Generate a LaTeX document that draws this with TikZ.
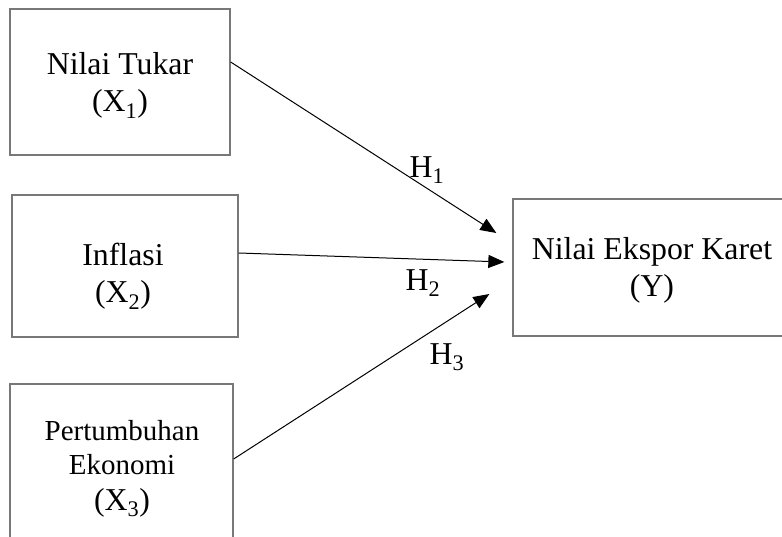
\documentclass[tikz,border=0pt]{standalone}
\usepackage{fontspec}
\setmainfont{Liberation Serif}
\usetikzlibrary{arrows.meta}
\definecolor{boxgray}{RGB}{120,120,120}
\newcommand{\bigtxt}{\fontsize{31.8}{37}\selectfont}
\begin{document}
\begin{tikzpicture}[x=1pt,y=-1pt,
  box/.style={draw=boxgray,line width=1.3pt,rectangle,inner sep=0pt},
  txt/.style={align=center,anchor=base,inner sep=0pt,font=\bigtxt},
  arr/.style={line width=1pt,-{Triangle[length=16pt,width=13pt]}},
  hlab/.style={font=\bigtxt,inner sep=0pt}]
\useasboundingbox (0,0) rectangle (782,537);
\clip (0,0) rectangle (782,537);
\node[box,minimum width=220pt,minimum height=146pt] (b1) at (120,82) {};
\node[box,minimum width=226pt,minimum height=142pt] (b2) at (125,266) {};
\node[box,minimum width=223pt,minimum height=170pt] (b3) at (121.5,469) {};
\node[box,minimum width=278pt,minimum height=137pt] (by) at (652,267.5) {};
\node[txt] (b1t) at (120,112) {Nilai Tukar\\(X\textsubscript{1})};
\node[txt] (b2t) at (123,303) {Inflasi\\(X\textsubscript{2})};
\node[txt,font=\fontsize{29}{34}\selectfont] (b3t) at (122,510) {Pertumbuhan\\Ekonomi\\[2pt]{\bigtxt (X\textsubscript{3})}};
\node[txt] (byt) at (652,297) {Nilai Ekspor Karet\\(Y)};
\coordinate (t1) at ([xshift=-16pt,yshift=34.5pt]by.west);
\coordinate (t2) at ([xshift=-8pt,yshift=5.5pt]by.west);
\coordinate (t3) at ([xshift=-23pt,yshift=-26.5pt]by.west);
\draw[arr] ([yshift=20pt]b1.east) -- (t1);
\draw[arr] ([yshift=13pt]b2.east) -- (t2);
\draw[arr] ([yshift=10pt]b3.east) -- (t3);
\node[hlab] (h1) at (427,170) {H\textsubscript{1}};
\node[hlab] (h2) at (423,283) {H\textsubscript{2}};
\node[hlab] (h3) at (447,357) {H\textsubscript{3}};
\end{tikzpicture}
\end{document}
